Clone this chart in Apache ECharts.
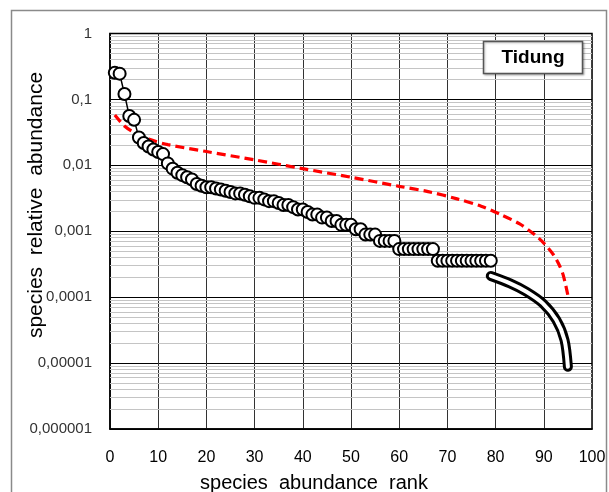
<!DOCTYPE html>
<html><head><meta charset="utf-8">
<script src="https://cdn.jsdelivr.net/npm/echarts@6/dist/echarts.min.js"></script>
<style>html,body{margin:0;padding:0;background:#fff}#c{width:609px;height:492px}</style>
</head><body><div id="c"></div>
<script>
// observed species: rank and relative abundance
const ranks = [1,2,3,4,5,6,7,8,9,10,11,12,13,14,15,16,17,18,19,20,
  21,22,23,24,25,26,27,28,29,30,31,32,33,34,35,36,37,38,39,40,
  41,42,43,44,45,46,47,48,49,50,51,52,53,54,55,56,57,58,59,60,
  61,62,63,64,65,66,67,68,69,70,71,72,73,74,75,76,77,78,79];
const abundance = [0.254,0.246,0.121,0.056,0.049,0.0264,0.0218,0.0193,0.0174,0.0159,
  0.0148,0.0107,0.0089,0.0077,0.0071,0.0066,0.0061,0.0052,0.0049,0.00466,
  0.00464,0.00446,0.00429,0.00411,0.00393,0.00375,0.00375,0.00357,0.00339,0.00321,
  0.00321,0.00304,0.00286,0.00286,0.00268,0.0025,0.0025,0.00232,0.00214,0.00214,
  0.00196,0.00179,0.00179,0.00161,0.00161,0.00143,0.00143,0.00125,0.00125,0.00125,
  0.00107,0.00107,0.00089,0.00089,0.00089,0.000714,0.000714,0.000714,0.000714,0.000536,
  0.000536,0.000536,0.000536,0.000536,0.000536,0.000536,0.000536,0.000357,0.000357,0.000357,
  0.000357,0.000357,0.000357,0.000357,0.000357,0.000357,0.000357,0.000357,0.000357];
// fitted model (red dashed)
const fitRanks  = [1,3,5,8,12,20,30,40,50,60,66,72,77,81,85,88,90,92,93,94,95];
const fitValues = [0.058,0.0395,0.0315,0.025,0.0206,0.0162,0.0121,0.0089,0.0066,0.0048,0.0040,
  0.0031,0.0024,0.0018,0.00129,0.0009,0.00066,0.00044,0.00033,0.00022,0.000106];
// extrapolated tail (black tube)
const tailRanks  = [79,83,86.4,89.8,92.6,94.3,95];
const tailValues = [0.00021,0.000162,0.000121,0.0000805,0.000045,0.0000223,0.0000088];
// axis labels
const xTickLabels = ['0','10','20','30','40','50','60','70','80','90','100'];
const yTickLabels = ['0,000001','0,00001','0,0001','0,001','0,01','0,1','1'];
const seriesName = 'Tidung';

const minorVals = [];
for (let e = -6; e <= -1; e++) for (let m = 2; m <= 9; m++) minorVals.push(Number((m * Math.pow(10, e)).toPrecision(3)));

const zip = (a, b) => a.map((v, i) => [v, b[i]]);
const chart = echarts.init(document.getElementById('c'));
const FF = "'Liberation Sans', Arial, sans-serif";
chart.setOption({
  animation: false,
  backgroundColor: '#fff',
  grid: { left: 110, right: 17, top: 33.5, bottom: 63, show: true, borderColor: '#000', borderWidth: 1.5, backgroundColor: 'transparent' },
  xAxis: {
    type: 'value', min: 0, max: 100, interval: 10,
    axisLine: { show: true, onZero: false, lineStyle: { color: '#000', width: 1.5 } },
    axisTick: { show: false },
    splitLine: { show: true, lineStyle: { color: '#333', width: 1 } },
    axisLabel: { fontSize: 16, color: '#000', margin: 21, fontFamily: FF,
      formatter: v => xTickLabels[Math.round(v / 10)] }
  },
  yAxis: {
    type: 'log', logBase: 10, min: 0.000001, max: 1,
    axisLine: { show: true, lineStyle: { color: '#000', width: 1.5 } },
    axisTick: { show: false },
    splitLine: { show: true, lineStyle: { color: '#000', width: 1 } },
    axisLabel: { fontSize: 15, color: '#333', margin: 18, fontFamily: FF,
      formatter: v => yTickLabels[Math.round(Math.log10(v)) + 6] }
  },
  graphic: [
    { type: 'rect', z: -10, silent: true, shape: { x: 11.5, y: 10.5, width: 595, height: 520 },
      style: { fill: 'none', stroke: '#8a8a8a', lineWidth: 1.5 } },
    { type: 'text', silent: true, x: 314, y: 483, style: { text: 'species  abundance  rank', fontSize: 20, fill: '#000', fontFamily: FF, align: 'center', verticalAlign: 'middle' } },
    { type: 'text', silent: true, x: 36, y: 205, rotation: Math.PI / 2, style: { text: 'species  relative  abundance', fontSize: 21, fill: '#000', fontFamily: FF, align: 'center', verticalAlign: 'middle' } },
    { type: 'rect', z: 100, silent: true, shape: { x: 483.5, y: 41.5, width: 99, height: 32 },
      style: { fill: '#fff', stroke: '#555', lineWidth: 1.5, shadowColor: 'rgba(0,0,0,0.25)', shadowBlur: 2, shadowOffsetX: 1, shadowOffsetY: 1 } },
    { type: 'text', z: 101, silent: true, x: 533, y: 58, style: { text: seriesName, fontSize: 19, fontWeight: 'bold', fill: '#000', fontFamily: FF, align: 'center', verticalAlign: 'middle' } }
  ],
  series: [
    { type: 'lines', name: 'minor', coordinateSystem: 'cartesian2d', z: 1, silent: true,
      lineStyle: { color: '#c4c4c4', width: 1, opacity: 1 },
      data: minorVals.map(v => ({ coords: [[0, v], [100, v]] })) },
    { type: 'line', name: 'fit', z: 3, data: zip(fitRanks, fitValues), smooth: 0.3, symbol: 'none',
      lineStyle: { color: '#ff0000', width: 3.2, type: [9, 5] } },
    { type: 'line', name: 'tailOuter', z: 4, data: zip(tailRanks, tailValues), smooth: 0.3, symbol: 'none',
      lineStyle: { color: '#000', width: 10, cap: 'round' } },
    { type: 'line', name: 'tailInner', z: 5, data: zip(tailRanks, tailValues), smooth: 0.3, symbol: 'none',
      lineStyle: { color: '#fff', width: 4, cap: 'round' } },
    { type: 'line', name: seriesName, z: 6, data: zip(ranks, abundance), symbol: 'circle', symbolSize: 12, showAllSymbol: true,
      lineStyle: { color: '#000', width: 1.5 },
      itemStyle: { color: '#fff', borderColor: '#000', borderWidth: 2 } }
  ]
});
</script></body></html>
